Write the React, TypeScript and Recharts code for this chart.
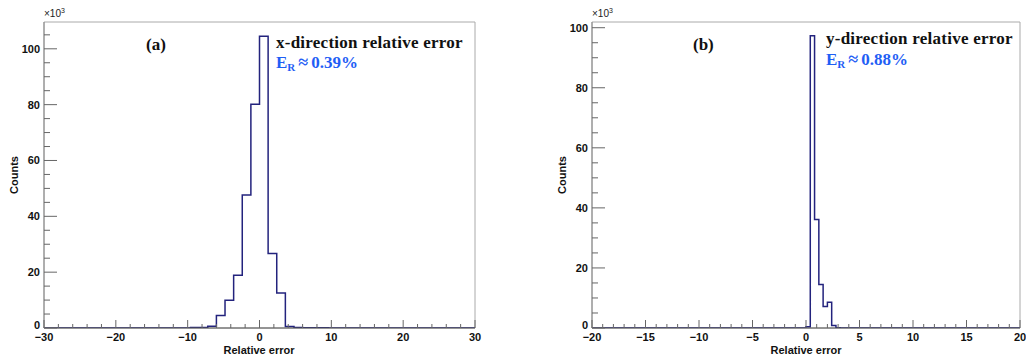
import React from 'react';
import { ComposedChart, Line, XAxis, YAxis, ReferenceArea } from 'recharts';

// counts in units of 10^3, one value per bin
// (a) x-direction: 50 bins over [-30, 30]
const binsA = { start: -30, end: 30, width: 1.2 };
const countsA = [
  0, 0, 0, 0, 0, 0, 0, 0, 0, 0,
  0, 0, 0, 0, 0, 0, 0, 0.2, 0.2, 0.6,
  4.5, 9.9, 18.9, 47.6, 80.1, 104.5, 26.7, 12.5, 0.5, 0.2,
  0.1, 0.1, 0.1, 0, 0, 0, 0, 0, 0, 0,
  0, 0, 0, 0, 0, 0, 0, 0, 0, 0,
];

// (b) y-direction: 100 bins over [-20, 20]
const binsB = { start: -20, end: 20, width: 0.4 };
const countsB = [
  0, 0, 0, 0, 0, 0, 0, 0, 0, 0,
  0, 0, 0, 0, 0, 0, 0, 0, 0, 0,
  0, 0, 0, 0, 0, 0, 0, 0, 0, 0,
  0, 0, 0, 0, 0, 0, 0, 0, 0, 0,
  0, 0, 0, 0, 0, 0, 0, 0, 0, 0,
  0.4, 97.3, 36.1, 14.5, 7.2, 8.6, 0.8, 0.1, 0, 0,
  0, 0, 0, 0, 0, 0, 0, 0, 0, 0,
  0, 0, 0, 0, 0, 0, 0, 0, 0, 0,
  0, 0, 0, 0, 0, 0, 0, 0, 0, 0,
  0, 0, 0, 0, 0, 0, 0, 0, 0, 0,
];

const xTicksA = [-30, -28, -26, -24, -22, -20, -18, -16, -14, -12, -10, -8, -6, -4, -2, 0,
  2, 4, 6, 8, 10, 12, 14, 16, 18, 20, 22, 24, 26, 28, 30];
const xTicksB = [-20, -19, -18, -17, -16, -15, -14, -13, -12, -11, -10, -9, -8, -7, -6, -5, -4, -3, -2, -1, 0,
  1, 2, 3, 4, 5, 6, 7, 8, 9, 10, 11, 12, 13, 14, 15, 16, 17, 18, 19, 20];
const yTicksA = [0, 5, 10, 15, 20, 25, 30, 35, 40, 45, 50, 55, 60, 65, 70, 75, 80, 85, 90, 95, 100, 105];
const yTicksB = [0, 5, 10, 15, 20, 25, 30, 35, 40, 45, 50, 55, 60, 65, 70, 75, 80, 85, 90, 95, 100];

const LINE = '#23237d';
const BLUE = '#1f5ef5';
const SANS = '"Liberation Sans", Arial, sans-serif';
const SERIF = '"Liberation Serif", "Times New Roman", serif';

function toSteps(bins: { start: number; end: number; width: number }, counts: number[]) {
  const rows = counts.map((c, i) => ({ x: +(bins.start + i * bins.width).toFixed(2), y: c }));
  rows.push({ x: bins.end, y: counts[counts.length - 1] });
  return rows;
}

const fmt = (v: number) => (v < 0 ? '\u2212' + Math.abs(v) : String(v));

const XTick = (props: any) => {
  const { x, y, payload, major } = props;
  const v = payload.value;
  const isMajor = v % major === 0;
  return (
    <g>
      <line x1={x} y1={y} x2={x} y2={y - (isMajor ? 8 : 4)} stroke="#666" />
      {isMajor && (
        <text x={x} y={y + 13} textAnchor="middle" fontFamily={SANS} fontWeight="bold" fontSize={11} fill="#111">
          {fmt(v)}
        </text>
      )}
    </g>
  );
};

const YTick = (props: any) => {
  const { x, y, payload } = props;
  const v = payload.value;
  const isMajor = v % 20 === 0;
  return (
    <g>
      <line x1={x} y1={y} x2={x + (isMajor ? 13 : 6)} y2={y} stroke="#666" />
      {isMajor && (
        <text x={x - 4} y={v === 0 ? y - 3 : y} textAnchor="end" dominantBaseline="central"
          fontFamily={SANS} fontWeight="bold" fontSize={11} fill="#111">
          {v}
        </text>
      )}
    </g>
  );
};

interface HistProps {
  data: { x: number; y: number }[];
  xDomain: [number, number];
  xTicks: number[];
  xMajor: number;
  yMax: number;
  yTicks: number[];
  left: number;
  right: number;
}

const Hist = (p: HistProps) => (
  <ComposedChart width={510} height={361} data={p.data} margin={{ top: 22, right: p.right, left: 0, bottom: 0 }}>
    <XAxis type="number" dataKey="x" domain={p.xDomain} ticks={p.xTicks} interval={0} height={33}
      tickSize={0} tickMargin={0} tickLine={false} axisLine={{ stroke: '#555' }}
      tick={<XTick major={p.xMajor} />} allowDataOverflow />
    <YAxis type="number" domain={[0, p.yMax]} ticks={p.yTicks} interval={0} width={p.left}
      tickSize={0} tickMargin={0} tickLine={false} axisLine={{ stroke: '#888' }}
      tick={<YTick />} allowDataOverflow />
    <ReferenceArea x1={p.xDomain[0]} x2={p.xDomain[1]} y1={0} y2={p.yMax} fill="none" stroke="#aaa" ifOverflow="visible" />
    <Line type="stepAfter" dataKey="y" stroke={LINE} strokeWidth={1.5} dot={false} activeDot={false} isAnimationActive={false} />
  </ComposedChart>
);

const Annot = ({ x0, label, tag, tagX, titleY, erY, er }: any) => (
  <g>
    <text x={x0} y={17} fontFamily={SANS} fontSize={10} fill="#222">
      ×10<tspan dy={-4} fontSize={7}>3</tspan>
    </text>
    <text x={tagX} y={50} fontFamily={SERIF} fontWeight="bold" fontSize={17} fill="#111">{tag}</text>
    <text x={label.x} y={titleY} fontFamily={SERIF} fontWeight="bold" fontSize={17} letterSpacing={0.25} fill="#111">{label.text}</text>
    <text x={label.x} y={erY} fontFamily={SERIF} fontWeight="bold" fontSize={17} fill={BLUE}>
      E<tspan dy={3} fontSize={11}>R</tspan>
      <tspan dy={-3} dx={3} fontSize={18}>≈</tspan>
      <tspan dx={3}>{er}</tspan>
    </text>
  </g>
);

export default function App() {
  const dataA = toSteps(binsA, countsA);
  const dataB = toSteps(binsB, countsB);
  return (
    <div style={{ position: 'absolute', left: 0, top: 0, width: 1026, height: 361, background: '#fff' }}>
      <div style={{ position: 'absolute', left: 0, top: 0 }}>
        <Hist data={dataA} xDomain={[-30, 30]} xTicks={xTicksA} xMajor={10} yMax={109.6} yTicks={yTicksA} left={44} right={35} />
      </div>
      <div style={{ position: 'absolute', left: 516, top: 0 }}>
        <Hist data={dataB} xDomain={[-20, 20]} xTicks={xTicksB} xMajor={5} yMax={101.9} yTicks={yTicksB} left={76} right={6} />
      </div>
      <svg width={1026} height={361} style={{ position: 'absolute', left: 0, top: 0, pointerEvents: 'none' }}>
        <Annot x0={44} tag="(a)" tagX={146} titleY={48} erY={68} er="0.39%" label={{ x: 276, text: 'x-direction relative error' }} />
        <Annot x0={592} tag="(b)" tagX={693} titleY={44} erY={65} er="0.88%" label={{ x: 826, text: 'y-direction relative error' }} />
        <text x={18} y={175} transform="rotate(-90 18 175)" textAnchor="middle" fontFamily={SANS} fontWeight="bold" fontSize={11} fill="#111">Counts</text>
        <text x={566} y={175} transform="rotate(-90 566 175)" textAnchor="middle" fontFamily={SANS} fontWeight="bold" fontSize={11} fill="#111">Counts</text>
        <text x={259} y={354} textAnchor="middle" fontFamily={SANS} fontWeight="bold" fontSize={11} fill="#111">Relative error</text>
        <text x={806} y={354} textAnchor="middle" fontFamily={SANS} fontWeight="bold" fontSize={11} fill="#111">Relative error</text>
      </svg>
    </div>
  );
}
